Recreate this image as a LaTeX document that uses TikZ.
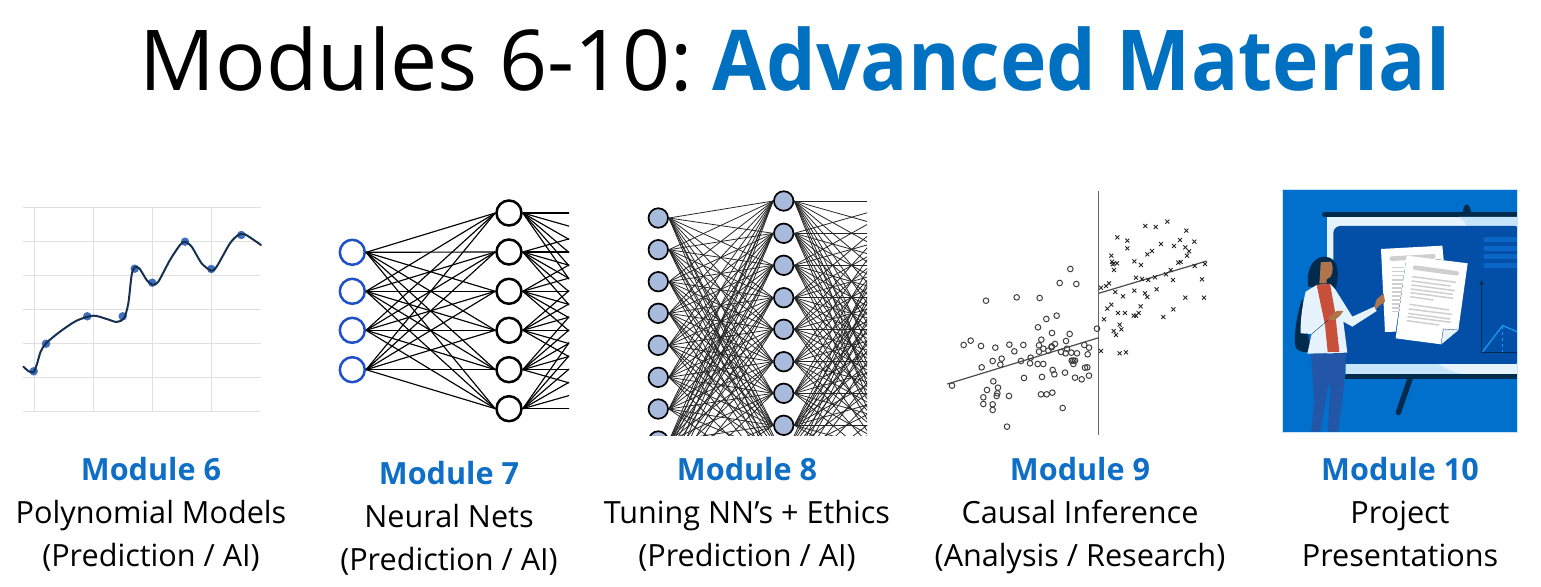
\documentclass[tikz,border=0pt]{standalone}
\usepackage{fontspec}
\setmainfont{Open Sans}
\newfontfamily\titlebold[FakeStretch=0.936]{Open Sans Bold}
\usetikzlibrary{arrows.meta}
\definecolor{modblue}{HTML}{0F6FC6}
\definecolor{titleblue}{HTML}{0070C0}
\definecolor{gridgray}{HTML}{E0E0E0}
\definecolor{dotblue}{HTML}{3F6FBF}
\definecolor{curvenavy}{HTML}{16304F}
\definecolor{ringblue}{HTML}{1F50C8}
\definecolor{nodeblue}{HTML}{A8BBDC}
\definecolor{slidebg}{HTML}{0070CC}
\definecolor{slidedark}{HTML}{002B4C}
\definecolor{screenlight}{HTML}{E6F3FD}
\definecolor{screenmid}{HTML}{C6E4FA}
\definecolor{screenblue}{HTML}{034FA8}
\definecolor{barblue}{HTML}{0A66C6}
\definecolor{chartblue}{HTML}{1898F0}
\definecolor{skin}{HTML}{B0744A}
\definecolor{shirt}{HTML}{C8503A}
\definecolor{pants}{HTML}{2456A8}
\definecolor{paperline}{HTML}{CFCFCF}
\tikzset{
  titletext/.style={inner sep=0pt,anchor=base,font=\fontsize{84}{90}\selectfont},
  modlabel/.style={inner sep=0pt,anchor=north,align=center,font=\fontsize{30.6}{42.8}\selectfont},
  gridline/.style={gridgray,line width=1.1pt},
  ptdot/.style={circle,fill=dotblue,inner sep=0pt,minimum size=8.5pt},
  ringin/.style={circle,draw=ringblue,line width=2.5pt,fill=white,inner sep=0pt,minimum size=25pt},
  ringhid/.style={circle,draw=black,line width=2.5pt,fill=white,inner sep=0pt,minimum size=25pt},
  nnedge/.style={black,line width=1.15pt},
  tnode/.style={circle,draw=black,line width=1.7pt,fill=nodeblue,inner sep=0pt,minimum size=19.5pt},
  tedge/.style={black!85,line width=0.8pt},
  scatteraxis/.style={black!60,line width=1.3pt},
  fitline/.style={black!70,line width=1.2pt},
  papersheet/.style={fill=white,draw=none},
  textbar/.style={paperline,line width=1.5pt},
}
\begin{document}
\begin{tikzpicture}[x=1pt,y=-1pt]
\useasboundingbox (0,0) rectangle (1541,586);
% Title
\node[titletext] (title) at (795,90) {Modules 6-10:\hspace{-10pt} \textcolor{titleblue}{\titlebold Advanced Material}};

% Module 6 chart
\foreach \y in {207.3,241.7,275.5,309.7,343.7,377.6,411.7}
  \draw[gridline] (23,\y) -- (261,\y);
\foreach \x in {34.3,93.3,152.3,211.3}
  \draw[gridline] (\x,207) -- (\x,412);
\foreach \n/\x/\y in {1/33.7/371.3,2/46/343.7,3/87.3/316.3,4/122.7/316.3,5/134.7/268.7,6/152.3/282.7,7/185/241.7,8/211.3/269,9/241.3/235}
  \node[ptdot] (p\n) at (\x,\y) {};
\begin{scope}[shift={(0,190)},x=0.3333pt,y=-0.3333pt]
\draw[curvenavy,line width=2pt,line cap=round] plot[smooth,tension=0.45] coordinates {(70,530)(85,543)(100,547)(110,525)(122,485)(138,460)(180,425)(230,392)(280,377)(320,387)(350,396)(372,385)(385,340)(395,255)(404,232)(418,235)(440,270)(457,284)(475,275)(510,210)(540,165)(555,155)(575,170)(605,220)(634,242)(650,230)(690,160)(715,135)(735,133)(783,165)};
\end{scope}

% Module 7 network
\foreach \n/\y in {1/252.3,2/291.3,3/330.3,4/369.7}
  \node[ringin] (a\n) at (352.3,\y) {};
\foreach \n/\y in {1/213,2/252,3/291.3,4/330.3,5/369.7,6/408.7}
  \node[ringhid] (b\n) at (509,\y) {};
\foreach \n/\y in {1/213,2/252,3/291.3,4/330.3,5/369.7,6/408.7}
  \coordinate (c\n) at (660,\y);
\foreach \i in {1,...,4}
  \foreach \j in {1,...,6}
    \draw[nnedge] (a\i.east) -- (b\j.west);
\begin{scope}
\clip (522,190) rectangle (569,430);
\foreach \i in {1,...,6}
  \foreach \j in {1,...,6}
    \draw[nnedge] (b\i.east) -- (c\j);
\end{scope}

% Module 8 network
\begin{scope}
\clip (640,187) rectangle (867,435);
\foreach \n/\y in {1/218,2/249.7,3/281.7,4/313.3,5/345.3,6/377.3,7/409,8/441}
  \node[tnode] (l\n) at (658.3,\y) {};
\coordinate (l9) at (658.3,473);
\coordinate (l10) at (658.3,505);
\foreach \n/\y in {1/201,2/233.3,3/265.3,4/297.7,5/329.3,6/361.7,7/393.3,8/425.3}
  \node[tnode] (m\n) at (783.7,\y) {};
\coordinate (m9) at (783.7,457);
\coordinate (m10) at (783.7,489);
\foreach \n/\y in {1/201,2/233.3,3/265.3,4/297.7,5/329.3,6/361.7,7/393.3,8/425.3,9/457,10/489}
  \coordinate (r\n) at (909,\y);
\foreach \i in {1,...,8}
  \foreach \j in {1,...,8}
    \draw[tedge] (l\i.east) -- (m\j.west);
\foreach \i in {9,10}
  \foreach \j in {1,...,8}
    \draw[tedge] (l\i) -- (m\j.west);
\foreach \i in {1,...,8}
  \foreach \j in {9,10}
    \draw[tedge] (l\i.east) -- (m\j);
\foreach \i in {1,...,8}
  \foreach \j in {1,...,10}
    \draw[tedge] (m\i.east) -- (r\j);
\foreach \i in {9,10}
  \foreach \j in {1,...,8}
    \draw[tedge] (m\i) -- (r\j);
\end{scope}

% Module 9 scatter
\draw[scatteraxis] (1098.7,191) -- (1098.7,435);
\draw[fitline] (947.3,384) -- (1098.7,337.7);
\draw[fitline] (1098.7,293.3) -- (1206.7,261);
\begin{scope}[shift={(930,185)},x=0.3333pt,y=-0.3333pt]
\foreach \x/\y in {168/347,260/337,329/339,389/294,439/297,421/252,380/392,349/402,324/427,366/444,419/447,408/468,501/431,463/480,477/488,473/508,441/505,424/503,411/491,393/501,407/505,375/477,365/487,365/484,355/497,340/491,334/464,327/481,327/500,302/518,280/480,253/499,238/479,196/488,153/483,122/467,101/480,188/528,215/521,211/539,155/547,273/528,300/535,323/537,340/537,368/555,373/568,405/563,336/576,282/579,190/589,435/578,455/583,477/572,465/548,472/547,430/527,425/527,435/527,430/537,66/602,171/615,204/608,202/625,200/633,237/633,160/637,160/657,188/658,188/675,333/628,350/628,367/623,398/669,231/725}
  \draw[black!75,line width=1pt] (\x,\y) circle (2.8pt);
\foreach \x/\y in {646/123,677/126,712/110,769/137,562/157,592/167,592/190,750/165,793/170,693/177,732/183,766/187,777/199,771/212,666/198,652/208,544/212,613/229,633/240,546/230,552/235,561/235,548/238,552/255,745/233,752/231,794/243,825/237,722/255,708/268,675/277,655/285,636/282,618/278,729/285,816/283,537/295,528/303,513/308,556/321,613/317,680/313,645/325,652/336,579/334,766/338,822/338,544/359,532/371,632/364,730/373,564/384,585/384,611/392,618/392,626/384,700/396,522/403,569/419,574/433,551/438,558/450,513/498,569/505,588/502}
  \draw[black!85,line width=0.9pt] (\x-6,\y-6) -- (\x+6,\y+6) (\x-6,\y+6) -- (\x+6,\y-6);
\end{scope}

% Module 10 illustration
\begin{scope}[shift={(1275,185)},x=0.3333pt,y=-0.3333pt]
\fill[slidebg] (22,13) rectangle (726,742);
\draw[screenmid,line width=0.8pt] (22,13) rectangle (726,742);
\begin{scope}
\clip (22,13) rectangle (726,742);
% knob, rails
\fill[slidedark] (563,84) .. controls (566,50) and (584,50) .. (589,84) -- cycle;
\draw[slidedark,line width=4.6pt,line cap=round] (148,89) -- (726,89);
\draw[slidedark,line width=5pt] (210,574) -- (726,574);
\draw[slidedark,line width=5.4pt,line cap=round] (405,582) -- (370,683);
% screen
\fill[screenlight] (155,96) rectangle (726,567);
\fill[screenmid] (550,96) .. controls (565,104) and (570,112) .. (575,124) -- (726,124) -- (726,96) -- cycle;
\fill[slidebg] (155,537) rectangle (212,570);
\fill[screenmid] (212,537) -- (490,537) .. controls (510,552) and (535,562) .. (565,567) -- (212,567) -- cycle;
\fill[screenblue,rounded corners=7pt] (175,123) -- (740,123) -- (740,537) -- (175,537) -- cycle;
% bars
\foreach \y in {165,190,215,241}
  \draw[barblue,line width=5pt,line cap=round] (632,\y) -- (730,\y);
% chart
\draw[slidedark,line width=1.1pt] (620,296) -- (620,502) -- (726,502);
\fill[slidedark] (620,286) -- (627,298) -- (613,298) -- cycle;
\draw[chartblue,line width=1.3pt] (623,500) -- (683,422) -- (726,440);
\draw[chartblue,line width=0.7pt,dashed] (683,422) -- (683,500);
% papers
\fill[papersheet] (318,192) -- (502,182) -- (506,225) -- (395,212) -- (362,440) -- (330,441) -- cycle;
\draw[paperline,line width=4.6pt,line cap=round] (350,221) -- (475,214);
\foreach \y in {247,260,272,285,297,309,321,333,345,357,369,380}
  \draw[textbar] (350,\y) -- (388,\y);
\fill[papersheet] (395,212) -- (578,235) -- (550,435) -- (498,478) -- (362,460) -- cycle;
\draw[paperline,line width=4.6pt,line cap=round] (420,248) -- (545,265);
\foreach \a/\b/\c/\d in {412/275/543/292,410/288/527/303,409/300/540/317,407/312/533/328,406/323/535/340,405/335/475/345,403/358/522/375,401/372/530/388,399/385/525/402,397/395/528/412,395/407/492/420}
  \draw[textbar] (\a,\b) -- (\c,\d);
\fill[screenlight] (498,478) -- (505,432) -- (550,435) -- cycle;
\draw[slidedark,line width=0.3pt] (498,478) -- (505,432) -- (550,435);
% person
\fill[slidedark] (82,340) .. controls (65,390) and (58,440) .. (60,480) .. controls (62,500) and (85,503) .. (108,500) -- cycle;
\fill[slidedark] (100,305) .. controls (92,260) and (110,215) .. (150,215) .. controls (190,218) and (195,260) .. (182,312) -- cycle;
\fill[skin] (137,232) -- (168,230) .. controls (178,250) and (172,280) .. (155,283) -- (155,295) -- (133,295) -- (135,270) -- cycle;
\fill[pants] (108,505) -- (213,505) -- (207,600) -- (190,740) -- (158,740) -- (166,600) -- (160,600) -- (136,740) -- (108,740) -- (118,650) -- cycle;
\fill[screenlight] (125,300) -- (92,320) .. controls (80,370) and (76,410) .. (77,445) -- (110,447) -- (97,506) -- (217,503) -- (205,410) -- (232,425) -- (305,378) -- (298,365) -- (232,395) -- (180,312) -- (165,297) -- cycle;
\fill[shirt] (125,300) -- (165,296) -- (180,380) -- (193,501) -- (158,501) -- (150,420) -- cycle;
\draw[slidedark,line width=0.35pt] (110,447) -- (160,405);
\fill[skin] (298,365) -- (305,343) -- (326,325) -- (330,350) -- (316,360) -- (303,372) -- cycle;
\fill[skin] (160,398) -- (185,378) -- (205,378) -- (195,392) -- (180,405) -- (165,405) -- cycle;
\end{scope}
\end{scope}

% Labels
\node[modlabel] (m6) at (151,457) {{\bfseries\color{modblue}Module 6}\\Polynomial Models\\(Prediction / AI)};
\node[modlabel] (m7) at (449,461) {{\bfseries\color{modblue}Module 7}\\Neural Nets\\(Prediction / AI)};
\node[modlabel] (m8) at (747,457) {{\bfseries\color{modblue}Module 8}\\Tuning NN’s + Ethics\\(Prediction / AI)};
\node[modlabel] (m9) at (1080,457) {{\bfseries\color{modblue}Module 9}\\Causal Inference\\(Analysis / Research)};
\node[modlabel] (m10) at (1400,457) {{\bfseries\color{modblue}Module 10}\\Project\\Presentations};
\end{tikzpicture}
\end{document}
